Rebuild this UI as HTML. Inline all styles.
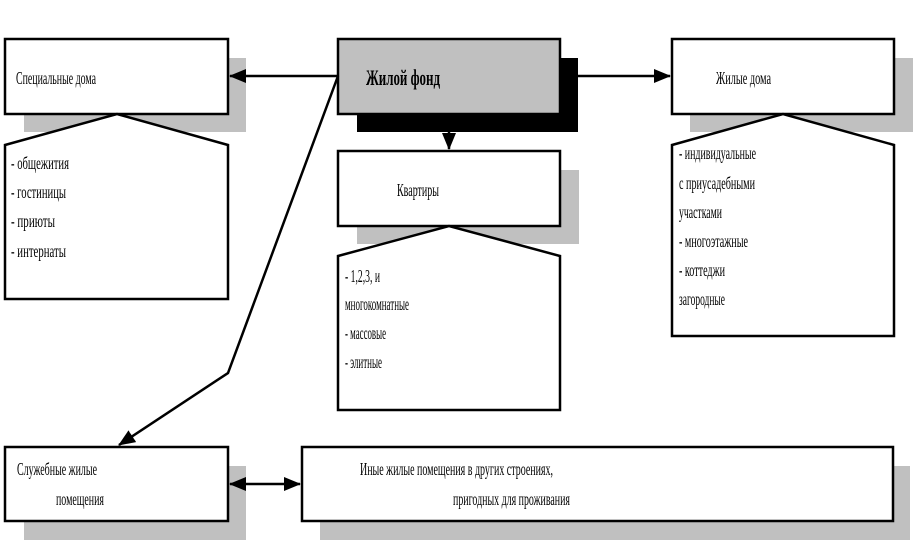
<!DOCTYPE html>
<html><head><meta charset="utf-8"><style>
html,body{margin:0;padding:0;background:#fff;}
svg{display:block;}
text{font-family:"Liberation Serif","Noto Serif CJK SC",serif;font-size:18px;fill:#000;}
</style></head><body>
<svg width="918" height="545" viewBox="0 0 918 545" xmlns="http://www.w3.org/2000/svg">
<defs>
<marker id="ah2" markerWidth="17" markerHeight="14" refX="16" refY="7" orient="auto-start-reverse" markerUnits="userSpaceOnUse"><path d="M0,0 L17,7 L0,14 z" fill="#000"/></marker>
</defs>
<rect x="24" y="58" width="222" height="74" fill="#c0c0c0"/>
<rect x="357" y="58" width="221" height="74" fill="#000"/>
<rect x="690" y="58" width="223" height="74" fill="#c0c0c0"/>
<rect x="357" y="170" width="222" height="74" fill="#c0c0c0"/>
<rect x="24" y="466" width="222" height="74" fill="#c0c0c0"/>
<rect x="320" y="466" width="590" height="74" fill="#c0c0c0"/>
<g stroke="#000" stroke-width="2.5" fill="#fff">
<rect x="5" y="39" width="223" height="75"/>
<rect x="338" y="39" width="222" height="75" fill="#c0c0c0"/>
<rect x="672" y="39" width="222" height="75"/>
<rect x="338" y="151" width="222" height="75"/>
<rect x="5" y="447" width="223" height="74"/>
<rect x="302" y="447" width="591" height="74"/>
<polygon points="5,145 117,114 228,145 228,299 5,299"/>
<polygon points="338,256 449,226 560,256 560,410 338,410"/>
<polygon points="672,145 783,114 894,145 894,336 672,336"/>
</g>
<g stroke="#000" stroke-width="2.5" fill="none">
<line x1="338" y1="76" x2="230" y2="76" marker-end="url(#ah2)"/>
<line x1="578" y1="76" x2="670" y2="76" marker-end="url(#ah2)"/>
<line x1="449" y1="132" x2="449" y2="149" marker-end="url(#ah2)"/>
<polyline points="338,76 228,373 119,445" marker-end="url(#ah2)"/>
<line x1="230" y1="484" x2="300" y2="484" marker-start="url(#ah2)" marker-end="url(#ah2)"/>
</g>
<text x="16" y="84" textLength="80" lengthAdjust="spacingAndGlyphs">Специальные дома</text>
<text x="366" y="85" textLength="74" lengthAdjust="spacingAndGlyphs" style="font-weight:bold;font-size:22px">Жилой фонд</text>
<text x="716" y="84" textLength="55" lengthAdjust="spacingAndGlyphs">Жилые дома</text>
<text x="397" y="196" textLength="42" lengthAdjust="spacingAndGlyphs">Квартиры</text>
<text x="11" y="169" textLength="58" lengthAdjust="spacingAndGlyphs">- общежития</text>
<text x="11" y="198" textLength="55" lengthAdjust="spacingAndGlyphs">- гостиницы</text>
<text x="11" y="227" textLength="44" lengthAdjust="spacingAndGlyphs">- приюты</text>
<text x="11" y="257" textLength="55" lengthAdjust="spacingAndGlyphs">- интернаты</text>
<text x="345" y="282" textLength="35" lengthAdjust="spacingAndGlyphs">- 1,2,3, и</text>
<text x="345" y="310" textLength="64" lengthAdjust="spacingAndGlyphs">многокомнатные</text>
<text x="345" y="339" textLength="41" lengthAdjust="spacingAndGlyphs">- массовые</text>
<text x="345" y="368" textLength="37" lengthAdjust="spacingAndGlyphs">- элитные</text>
<text x="679" y="159" textLength="77" lengthAdjust="spacingAndGlyphs">- индивидуальные</text>
<text x="679" y="189" textLength="76" lengthAdjust="spacingAndGlyphs">с приусадебными</text>
<text x="679" y="218" textLength="43" lengthAdjust="spacingAndGlyphs">участками</text>
<text x="679" y="247" textLength="69" lengthAdjust="spacingAndGlyphs">- многоэтажные</text>
<text x="679" y="276" textLength="46" lengthAdjust="spacingAndGlyphs">- коттеджи</text>
<text x="679" y="305" textLength="46" lengthAdjust="spacingAndGlyphs">загородные</text>
<text x="17" y="475" textLength="80" lengthAdjust="spacingAndGlyphs">Служебные жилые</text>
<text x="56" y="505" textLength="48" lengthAdjust="spacingAndGlyphs">помещения</text>
<text x="360" y="475" textLength="193" lengthAdjust="spacingAndGlyphs">Иные жилые помещения в других строениях,</text>
<text x="453" y="505" textLength="117" lengthAdjust="spacingAndGlyphs">пригодных для проживания</text>
</svg>
</body></html>
